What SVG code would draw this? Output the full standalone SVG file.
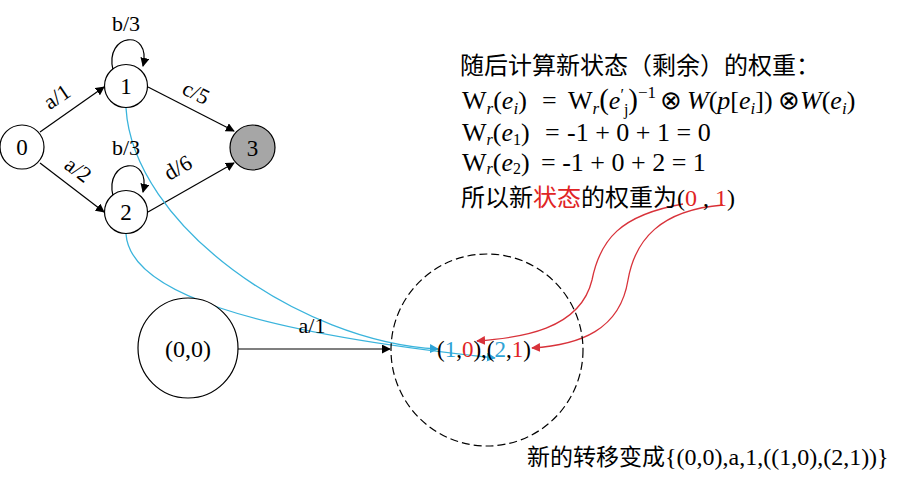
<svg xmlns="http://www.w3.org/2000/svg" width="911" height="485" viewBox="0 0 911 485">
<defs>
<style>
.n{fill:#fff;stroke:#000;stroke-width:1.2}
.t{font-family:"Liberation Serif","Times New Roman",serif;fill:#000}
.c{font-family:"Noto Sans CJK SC","Noto Sans",sans-serif;fill:#000}
.e{fill:none;stroke:#000;stroke-width:1.2}
.b{fill:none;stroke:#3ab4dc;stroke-width:1.3}
.r{fill:none;stroke:#d8323a;stroke-width:1.3}
.red{fill:#e02424}
.blue{fill:#2ea3d6}
.i{font-style:italic}
</style>
<marker id="ak" viewBox="0 0 10 10" refX="9" refY="5" markerWidth="9" markerHeight="9" markerUnits="userSpaceOnUse" orient="auto"><path d="M0,0 L10,5 L0,10 z" fill="#000"/></marker>
<marker id="ab" viewBox="0 0 10 10" refX="9" refY="5" markerWidth="9" markerHeight="9" markerUnits="userSpaceOnUse" orient="auto"><path d="M0,0 L10,5 L0,10 z" fill="#2ea3d6"/></marker>
<marker id="ar" viewBox="0 0 10 10" refX="9" refY="5" markerWidth="9" markerHeight="9" markerUnits="userSpaceOnUse" orient="auto"><path d="M0,0 L10,5 L0,10 z" fill="#d8323a"/></marker>
</defs>
<rect width="911" height="485" fill="#fff"/>

<g id="connectors">
<path class="e" d="M40,132 L104,87" marker-end="url(#ak)"/>
<path class="e" d="M40,163 L104,212" marker-end="url(#ak)"/>
<path class="e" d="M148,87 L234,131" marker-end="url(#ak)"/>
<path class="e" d="M148,212 L234,163" marker-end="url(#ak)"/>
<path class="e" d="M113,70 C104,33 152,28 143,66" marker-end="url(#ak)"/>
<path class="e" d="M113,196 C104,159 152,154 143,192" marker-end="url(#ak)"/>
<path class="e" d="M238,349 L390,349" marker-end="url(#ak)"/>
<path class="b" d="M126,108 C133,225 300,342 438,349" marker-end="url(#ab)"/>
<path class="b" d="M126,234 C130,292 250,332 495,358" marker-end="url(#ab)"/>
<path class="r" d="M683,204 C620,215 600,240 592,280 C580,330 520,338 477,341" marker-end="url(#ar)"/>
<path class="r" d="M723,205 C660,210 635,240 628,280 C620,330 580,345 532,348" marker-end="url(#ar)"/>
<g class="t" font-size="22" text-anchor="middle">
<text x="126" y="31">b/3</text>
<text x="126" y="155">b/3</text>
<text transform="translate(57,97) rotate(-34)" y="7">a/1</text>
<text transform="translate(196,93) rotate(27)" y="7">c/5</text>
<text transform="translate(78,170) rotate(37)" y="7">a/2</text>
<text transform="translate(178,168) rotate(-30)" y="7">d/6</text>
<text x="312" y="333">a/1</text>
</g>
</g>

<g id="node0"><circle class="n" cx="22" cy="147" r="22"/><text class="t" x="22" y="155" font-size="23" text-anchor="middle">0</text></g>
<g id="node1"><circle class="n" cx="126" cy="86" r="21.5"/><text class="t" x="126" y="94" font-size="23" text-anchor="middle">1</text></g>
<g id="node2"><circle class="n" cx="126" cy="212" r="21.5"/><text class="t" x="126" y="220" font-size="23" text-anchor="middle">2</text></g>
<g id="node3"><circle cx="252.5" cy="147.5" r="22.5" fill="#a6a6a6" stroke="#000" stroke-width="1.2"/><text class="t" x="252.5" y="155.5" font-size="23" text-anchor="middle">3</text></g>
<g id="node00"><circle class="n" cx="188" cy="348" r="50" fill="none"/><text class="t" x="188" y="357" font-size="24" text-anchor="middle">(0,0)</text></g>
<g id="nodeNew"><circle cx="487" cy="350" r="96" fill="none" stroke="#000" stroke-width="1.2" stroke-dasharray="8,4"/>
<text class="t" x="437" y="357" font-size="23">(<tspan class="blue">1</tspan>,<tspan class="red">0</tspan>),(<tspan class="blue">2</tspan>,<tspan class="red">1</tspan>)</text></g>

<g id="notes">
<text class="c" x="460" y="74" font-size="24">随后计算新状态（剩余）的权重：</text>
<text class="t" x="462" y="109" font-size="26">W<tspan class="i" font-size="17" dy="5">r</tspan><tspan dy="-5">(</tspan><tspan class="i">e</tspan><tspan class="i" font-size="17" dy="5">i</tspan><tspan dy="-5">)</tspan><tspan x="542">=</tspan><tspan x="568">W</tspan><tspan class="i" font-size="17" dy="5">r</tspan><tspan dy="-5" font-size="29">(</tspan><tspan class="i">e</tspan><tspan font-size="16" dy="-9">′</tspan><tspan font-size="16" dy="15">j</tspan><tspan dy="-6" font-size="29">)</tspan><tspan font-size="17" dy="-11">−1</tspan><tspan x="660" dy="11">⊗</tspan><tspan x="687" class="i">W</tspan>(<tspan class="i">p</tspan>[<tspan class="i">e</tspan><tspan class="i" font-size="17" dy="5">i</tspan><tspan dy="-5">])</tspan><tspan x="778">⊗</tspan><tspan class="i">W</tspan>(<tspan class="i">e</tspan><tspan class="i" font-size="17" dy="5">i</tspan><tspan dy="-5">)</tspan></text>
<text class="t" x="462" y="141" font-size="26">W<tspan class="i" font-size="16" dy="4">r</tspan><tspan dy="-4">(</tspan><tspan class="i">e</tspan><tspan font-size="16" dy="4">1</tspan><tspan dy="-4">)</tspan><tspan x="545">=</tspan><tspan x="567">-1 + 0 + 1 = 0</tspan></text>
<text class="t" x="462" y="171" font-size="26">W<tspan class="i" font-size="16" dy="3">r</tspan><tspan dy="-3">(</tspan><tspan class="i">e</tspan><tspan font-size="16" dy="3">2</tspan><tspan dy="-3">)</tspan><tspan x="541">= -1 + 0 + 2 = 1</tspan></text>
<text x="461" y="206" font-size="24"><tspan class="c">所以新</tspan><tspan class="c red">状态</tspan><tspan class="c">的权重为</tspan><tspan class="t">(<tspan class="red">0</tspan> , <tspan class="red">1</tspan>)</tspan></text>
<text x="527" y="465"><tspan class="c" font-size="23">新的转移变成</tspan><tspan class="t" font-size="24">{(0,0),a,1,((1,0),(2,1))}</tspan></text>
</g>
</svg>
